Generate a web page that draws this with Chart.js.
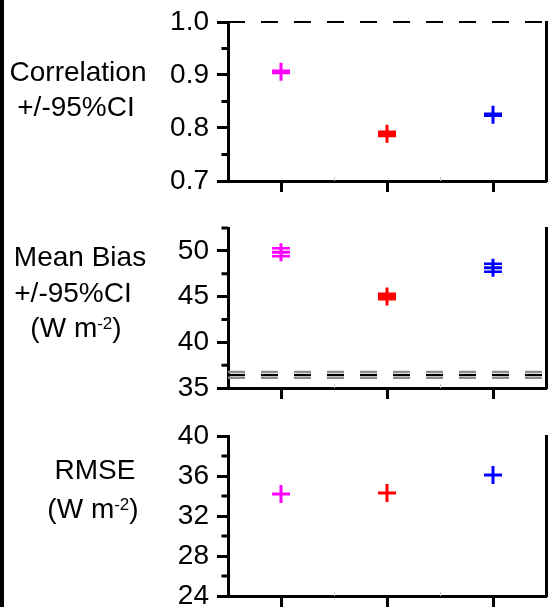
<!DOCTYPE html>
<html>
<head>
<meta charset="utf-8">
<script src="https://cdn.jsdelivr.net/npm/chart.js@4.4.1/dist/chart.umd.min.js"></script>
<style>
  html, body { margin: 0; padding: 0; background: #fff; }
  #wrap { position: relative; width: 548px; height: 607px; overflow: hidden; background: #fff; }
  #wrap canvas { position: absolute; left: 0; top: 0; }
  .edge { position: absolute; left: 0; top: 0; width: 4px; height: 607px; background: #000; }
  .ttl { position: absolute; width: 200px; text-align: center; white-space: nowrap;
         font: 28px/28px 'Liberation Sans', Arial, sans-serif; color: #000; }
  .ttl sup { font-size: 17px; line-height: 0; vertical-align: baseline; position: relative; top: -8px; }
</style>
</head>
<body>
<div id="wrap">
  <canvas id="corrChart" width="548" height="607"></canvas>
  <canvas id="biasChart" width="548" height="607"></canvas>
  <canvas id="rmseChart" width="548" height="607"></canvas>

  <div class="ttl" style="left:-22px;top:58px">Correlation</div>
  <div class="ttl" style="left:-24px;top:93px">+/-95%CI</div>

  <div class="ttl" style="left:-20px;top:243px">Mean Bias</div>
  <div class="ttl" style="left:-27px;top:279px">+/-95%CI</div>
  <div class="ttl" style="left:-24px;top:314px">(W m<sup>-2</sup>)</div>

  <div class="ttl" style="left:-5px;top:456px">RMSE</div>
  <div class="ttl" style="left:-7px;top:495px">(W m<sup>-2</sup>)</div>

  <div class="edge"></div>
</div>
<script>
// three runs, same order in every panel
const xPos = [0.5, 1.5, 2.5];
const xMinorTicks = [1, 2];
const markerColors = ['#ff00ff', '#ff0000', '#0000ff'];

// correlation +/- 95% CI
const corrValues = [0.906, 0.789, 0.825];
const corrCI = [0.002, 0.004, 0.002];
const corrTicks = [0.7, 0.8, 0.9, 1.0];
const corrTickLabels = ['0.7', '0.8', '0.9', '1.0'];
const corrMinorTicks = [0.75, 0.85, 0.95];
const corrRef = 1.0;

// mean bias +/- 95% CI (W m-2)
const biasValues = [49.85, 45.0, 48.15];
const biasCI = [0.44, 0.3, 0.44];
const biasTicks = [35, 40, 45, 50];
const biasTickLabels = ['35', '40', '45', '50'];
const biasMinorTicks = [37.5, 42.5, 47.5, 52.5];
const biasRef = 36.43;
const biasRefCI = 0.31;

// RMSE (W m-2)
const rmseValues = [34.2, 34.3, 36.1];
const rmseTicks = [24, 28, 32, 36, 40];
const rmseTickLabels = ['24', '28', '32', '36', '40'];
const rmseMinorTicks = [26, 30, 34, 38];

const FONT = "'Liberation Sans', Arial, sans-serif";
const PAGE_H = 607;

// vertical CI bars with caps, drawn through the panel's own scales
function errorBars(values, ci) {
    return {
        id: 'errorBars',
        afterDatasetsDraw(chart) {
            if (!ci) return;
            const { ctx, scales: { x, y } } = chart;
            ctx.save();
            ctx.lineWidth = 2.5;
            values.forEach((v, i) => {
                const px = x.getPixelForValue(xPos[i]);
                const hi = y.getPixelForValue(v + ci[i]);
                const lo = y.getPixelForValue(v - ci[i]);
                ctx.strokeStyle = markerColors[i];
                ctx.beginPath();
                ctx.moveTo(px, hi);
                ctx.lineTo(px, lo);
                ctx.moveTo(px - 9, hi);
                ctx.lineTo(px + 9, hi);
                ctx.moveTo(px - 9, lo);
                ctx.lineTo(px + 9, lo);
                ctx.stroke();
            });
            ctx.restore();
        }
    };
}

// half-length minor ticks on the left axis, faint ones on the bottom axis
function minorTicks(values) {
    return {
        id: 'minorTicks',
        afterDraw(chart) {
            const { ctx, chartArea, scales: { x, y } } = chart;
            ctx.save();
            ctx.strokeStyle = '#000';
            ctx.lineWidth = 3;
            ctx.beginPath();
            values.forEach(v => {
                const py = y.getPixelForValue(v);
                ctx.moveTo(chartArea.left - 6.5, py);
                ctx.lineTo(chartArea.left, py);
            });
            ctx.stroke();
            ctx.strokeStyle = '#c8c8c8';
            ctx.lineWidth = 1;
            ctx.beginPath();
            xMinorTicks.forEach(v => {
                const px = Math.round(x.getPixelForValue(v)) + 0.5;
                ctx.moveTo(px, chartArea.bottom - 4);
                ctx.lineTo(px, chartArea.bottom);
            });
            ctx.stroke();
            ctx.restore();
        }
    };
}

function panel(id, o) {
    const allTicks = o.ticks.concat(o.minor).sort((a, b) => a - b);
    const setTicks = s => { s.ticks = allTicks.map(v => ({ value: v })); };

    const datasets = [{
        type: 'scatter',
        data: xPos.map((x, i) => ({ x, y: o.values[i] })),
        pointStyle: 'cross',
        pointRadius: 9,
        pointHoverRadius: 9,
        pointBorderWidth: 3,
        pointBorderColor: markerColors,
        pointBackgroundColor: markerColors
    }];
    o.refs.forEach(r => datasets.push({
        type: 'line',
        data: [{ x: 0, y: r.y }, { x: 3, y: r.y }],
        borderColor: r.color,
        borderWidth: r.width,
        borderDash: [17, 16],
        pointRadius: 0,
        fill: false,
        clip: false
    }));

    return new Chart(document.getElementById(id), {
        data: { datasets },
        options: {
            responsive: false,
            animation: false,
            events: [],
            layout: { autoPadding: false, padding: { top: o.top, left: 0, right: 0, bottom: 0 } },
            plugins: { legend: { display: false }, tooltip: { enabled: false } },
            scales: {
                x: {
                    type: 'linear', min: 0, max: 3,
                    afterBuildTicks: s => { s.ticks = xPos.map(v => ({ value: v })); },
                    afterFit: s => { s.height = PAGE_H - o.bottom; s.paddingLeft = 0; s.paddingRight = 0; },
                    ticks: { display: false, autoSkip: false },
                    grid: { drawOnChartArea: false, tickLength: 11, tickWidth: 3, tickColor: '#000' },
                    border: { color: '#000', width: 3 }
                },
                y: {
                    type: 'linear', position: 'left', min: o.min, max: o.max,
                    afterBuildTicks: setTicks,
                    afterFit: s => { s.width = 228; s.paddingTop = 0; s.paddingBottom = 0; },
                    ticks: {
                        autoSkip: false,
                        padding: 8,
                        color: '#000',
                        font: { family: FONT, size: 28 },
                        callback: v => {
                            const i = o.ticks.indexOf(v);
                            return i < 0 ? '' : o.labels[i];
                        }
                    },
                    grid: {
                        drawOnChartArea: false, tickLength: 11, tickWidth: 3,
                        tickColor: c => o.ticks.includes(c.tick.value) ? '#000' : 'rgba(0,0,0,0)'
                    },
                    border: { color: '#000', width: 3 }
                },
                y2: {
                    type: 'linear', position: 'right', min: o.min, max: o.max,
                    afterBuildTicks: setTicks,
                    afterFit: s => { s.width = 2; s.paddingTop = 0; s.paddingBottom = 0; },
                    ticks: { display: false, autoSkip: false },
                    grid: { drawOnChartArea: false, tickLength: 8, tickWidth: 3, tickColor: '#000' },
                    border: { color: '#000', width: 3 }
                }
            }
        },
        plugins: [errorBars(o.values, o.ci), minorTicks(o.minor)]
    });
}

panel('corrChart', {
    top: 22, bottom: 181, min: 0.7, max: 1.0,
    values: corrValues, ci: corrCI,
    ticks: corrTicks, labels: corrTickLabels, minor: corrMinorTicks,
    refs: [{ y: corrRef, color: '#000', width: 2 }]
});

panel('biasChart', {
    top: 228, bottom: 388, min: 35, max: 52.5,
    values: biasValues, ci: biasCI,
    ticks: biasTicks, labels: biasTickLabels, minor: biasMinorTicks,
    refs: [
        { y: biasRef, color: '#000', width: 2 },
        { y: biasRef + biasRefCI, color: '#8c8c8c', width: 2.5 },
        { y: biasRef - biasRefCI, color: '#8c8c8c', width: 2.5 }
    ]
});

panel('rmseChart', {
    top: 436, bottom: 596, min: 24, max: 40,
    values: rmseValues, ci: null,
    ticks: rmseTicks, labels: rmseTickLabels, minor: rmseMinorTicks,
    refs: []
});
</script>
</body>
</html>
